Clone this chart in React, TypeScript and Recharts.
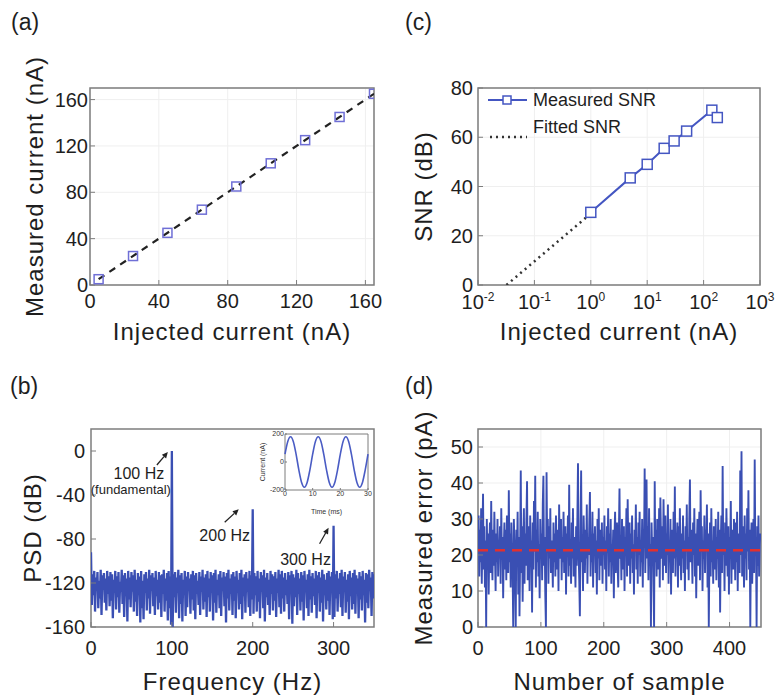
import React from "react";
import {
  ComposedChart,
  LineChart,
  Line,
  XAxis,
  YAxis,
  CartesianGrid,
  ReferenceArea,
  ReferenceLine,
  ReferenceDot,
  Legend,
  Label,
} from "recharts";

const FONT = '"Liberation Sans", Arial, Helvetica, sans-serif';
const BLUE = "#3a4fb3";
const BLUE_C = "#4456c2";
const FRAME = "#7d7d7d";
const INK = "#1e1e1e";

// (a) measured vs injected current
const injectedA = [5, 25, 45, 65, 85, 105, 125, 145, 165];
const measuredA = [5, 25, 45, 65, 85, 105, 125, 145, 165];
const fitInjectedA = [5, 165];
const fitMeasuredA = [5, 165];
const ticksA = [0, 40, 80, 120, 160];

// (c) SNR vs injected current (log x)
const snrCurrent = [1, 5, 10, 20, 30, 50, 140, 175];
const snrDb = [29.5, 43.5, 49, 55.5, 58.5, 62.5, 71, 68];
const fitSnrCurrent = [0.032, 1];
const fitSnrDb = [0, 29];
const logTicks = [0.01, 0.1, 1, 10, 100, 1000];
const snrTicks = [0, 20, 40, 60, 80];

// (b) PSD, one value per Hz (0..350)
const psdDb = [
  -92, -140, -112, -131, -109, -146, -115, -127, -110, -143, -118, -134, -108, -149, -113, -126, -111, -138, -116, -145, -109, -130, -114, -141, -110,
  -136, -112, -152, -117, -129, -109, -144, -114, -133, -110, -147, -119, -128, -108, -139, -113, -151, -111, -132, -116, -155, -109, -135, -115, -142,
  -110, -128, -113, -146, -108, -137, -117, -150, -111, -131, -114, -156, -109, -143, -118, -153, -112, -129, -110, -145, -116, -134, -108, -148, -113,
  -127, -111, -141, -115, -149, -109, -132, -117, -144, -110, -138, -113, -151, -112, -130, -108, -146, -116, -136, -111, -154, -109, -143, -114, -158,
  0, -160, -112, -133, -110, -147, -115, -129, -108, -152, -113, -139, -111, -155, -117, -131, -109, -150, -114, -142, -110, -127, -116, -148, -112,
  -135, -109, -145, -113, -153, -111, -130, -118, -140, -110, -149, -114, -128, -108, -144, -115, -137, -112, -151, -109, -133, -116, -146, -110, -129,
  -113, -154, -111, -138, -108, -147, -117, -131, -112, -143, -109, -150, -115, -127, -110, -141, -114, -156, -111, -134, -108, -145, -116, -130, -112,
  -149, -110, -136, -114, -152, -109, -129, -117, -144, -111, -139, -108, -153, -115, -132, -112, -147, -110, -128, -116, -142, -109, -150, -113, -135,
  -53, -148, -111, -131, -114, -146, -109, -137, -116, -152, -110, -128, -113, -143, -108, -155, -115, -133, -111, -140, -117, -149, -109, -130, -112,
  -145, -114, -136, -110, -151, -116, -129, -108, -142, -112, -148, -109, -134, -115, -146, -111, -131, -117, -139, -110, -153, -113, -127, -109, -157,
  -112, -141, -115, -133, -108, -149, -111, -130, -116, -145, -110, -137, -113, -154, -109, -128, -117, -143, -112, -150, -108, -135, -114, -147, -111,
  -132, -116, -140, -109, -152, -113, -129, -110, -146, -115, -138, -108, -155, -112, -131, -117, -144, -111, -136, -109, -149, -114, -127, -110, -153,
  -68, -151, -112, -134, -109, -146, -116, -130, -111, -142, -108, -150, -114, -128, -110, -147, -117, -137, -112, -153, -109, -132, -115, -144, -111,
  -139, -108, -148, -113, -129, -116, -152, -110, -135, -114, -145, -109, -131, -117, -156, -111, -138, -112, -143, -108, -127, -115, -150, -110, -134,
  -112,
];
const psdTicksX = [0, 100, 200, 300];
const psdTicksY = [-160, -120, -80, -40, 0];
const peakNotes = [
  { f: 100, db: 0, text: "100 Hz", sub: "(fundamental)" },
  { f: 200, db: -53, text: "200 Hz", sub: "" },
  { f: 300, db: -68, text: "300 Hz", sub: "" },
];

// (b) inset: time signal
const insetTimeMs = [0, 1, 2, 3, 4, 5, 6, 7, 8, 9, 10, 11, 12, 13, 14, 15, 16, 17, 18, 19, 20, 21, 22, 23, 24, 25, 26, 27, 28, 29, 30];
const insetCurrent = [56, 146, 180, 146, 56, -56, -146, -180, -146, -56, 56, 146, 180, 146, 56, -56, -146, -180, -146, -56, 56, 146, 180, 146, 56, -56, -146, -180, -146, -56, 56];

// (d) measured error per sample
const errorPa = [
  22, 31, 14, 27, 18, 33, 12, 25, 37, 16, 28, 11, 24, 0, 30, 19, 26, 9, 23, 29, 15, 35, 20, 13, 27,
  17, 32, 21, 10, 26, 18, 30, 14, 24, 21, 28, 12, 33, 19, 25, 8, 22, 29, 16, 27, 13, 31, 20, 15, 38,
  18, 26, 11, 29, 21, 16, 0, 30, 23, 14, 0, 27, 19, 32, 9, 25, 3, 20, 43.5, 15, 28, 7, 24, 33, 12,
  26, 17, 30, 40.5, 13, 22, 28, 10, 31, 19, 24, 4, 29, 16, 35, 21, 42, 11, 27, 18, 32, 14, 23, 8, 30,
  20, 26, 13, 34, 42, 17, 25, 9, 0, 43, 22, 30, 12, 28, 19, 33, 15, 24, 20, 11, 29, 18, 26, 14, 31,
  21, 16, 27, 10, 34, 23, 19, 30, 13, 25, 18, 32, 15, 22, 28, 9, 26, 20, 31, 14, 39.5, 17, 24, 12, 29,
  19, 33, 14, 25, 21, 11, 28, 17, 30, 45.5, 20, 13, 3, 26, 43.5, 18, 24, 10, 31, 22, 15, 27, 19, 34, 12,
  25, 20, 29, 37.5, 14, 23, 18, 32, 11, 26, 21, 28, 15, 24, 9, 30, 19, 33, 13, 27, 22, 17, 29, 12, 25,
  20, 31, 16, 24, 10, 28, 21, 33, 14, 26, 18, 30, 12, 23, 19, 27, 8, 25, 32, 15, 22, 29, 17, 11, 26,
  38.5, 19, 24, 13, 30, 21, 16, 28, 10, 25, 20, 33, 14, 35.5, 22, 17, 29, 12, 26, 19, 31, 15, 23, 9, 27,
  21, 34, 16, 25, 12, 29, 20, 32, 14, 24, 18, 30, 11, 27, 22, 44, 15, 26, 41, 19, 28, 13, 33, 17, 23,
  0, 29, 20, 25, 12, 0, 40.5, 18, 27, 14, 30, 21, 16, 33, 11, 36, 24, 19, 28, 13, 35.5, 22, 17, 31, 15,
  26, 20, 34, 12, 24, 18, 30, 9, 27, 21, 15, 32, 19, 39, 14, 25, 22, 29, 11, 28, 17, 33, 20, 13, 26,
  19, 31, 15, 24, 10, 28, 21, 34, 16, 25, 13, 30, 41, 18, 27, 22, 12, 29, 20, 33, 14, 26, 8, 23, 30,
  17, 25, 32, 13, 38, 21, 28, 10, 24, 19, 31, 15, 27, 22, 34, 11, 26, 0, 20, 29, 14, 33, 18, 24, 12,
  28, 21, 16, 30, 13, 25, 19, 32, 11, 27, 4, 23, 31, 15, 44.7, 20, 26, 10, 29, 17, 33, 22, 14, 28, 9,
  25, 19, 35, 12, 27, 21, 16, 30, 24, 13, 29, 18, 32, 10, 26, 22, 15, 43.5, 20, 48.8, 14, 28, 23, 11, 31,
  19, 26, 13, 33, 21, 38, 16, 27, 0, 24, 29, 12, 22, 30, 15, 46.5, 20, 25, 0, 28, 17, 31, 14, 23, 26,
];
const meanErrorPa = 21.3;
const errTicksX = [0, 100, 200, 300, 400];
const errTicksY = [0, 10, 20, 30, 40, 50];

const pointsA = injectedA.map((x, i) => ({ x, y: measuredA[i] }));
const fitA = fitInjectedA.map((x, i) => ({ x, y: fitMeasuredA[i] }));
const snrData = snrCurrent.map((x, i) => ({ x, y: snrDb[i] }));
const snrFit = fitSnrCurrent.map((x, i) => ({ x, y: fitSnrDb[i] }));
const psdData = psdDb.map((v, i) => ({ f: i, v }));
const insetData = insetTimeMs.map((t, i) => ({ t, c: insetCurrent[i] }));
const errData = errorPa.map((e, i) => ({ n: i, e }));

const tickStyle = { fontSize: 20, fill: INK };
const titleStyle = { fontSize: 24, fill: INK, letterSpacing: 1, textAnchor: "middle" as const };

const squareDot = (size: number, stroke: string, fill: string) => (p: any) => {
  if (p.cx == null || p.cy == null) return <g key={`e-${p.index}`} />;
  return (
    <rect
      key={`sq-${p.index}`}
      x={p.cx - size / 2}
      y={p.cy - size / 2}
      width={size}
      height={size}
      fill={fill}
      stroke={stroke}
      strokeWidth={1.5}
    />
  );
};

const LogTick = (props: any) => {
  const { x, y, payload } = props;
  const exp = Math.round(Math.log10(payload.value));
  return (
    <text x={x} y={y + 29} textAnchor="middle" fontSize={20} fill={INK}>
      10
      <tspan dy={-8} fontSize={12}>
        {exp}
      </tspan>
    </text>
  );
};

const Arrow = ({ x1, y1, x2, y2 }: { x1: number; y1: number; x2: number; y2: number }) => {
  const a = Math.atan2(y2 - y1, x2 - x1);
  const L = 6;
  const W = 2.8;
  const bx = x2 - L * Math.cos(a);
  const by = y2 - L * Math.sin(a);
  const pts = `${x2},${y2} ${bx + W * Math.sin(a)},${by - W * Math.cos(a)} ${bx - W * Math.sin(a)},${by + W * Math.cos(a)}`;
  return (
    <g>
      <line x1={x1} y1={y1} x2={bx} y2={by} stroke="#222" strokeWidth={1.3} />
      <polygon points={pts} fill="#222" />
    </g>
  );
};

// offsets of arrow + text, relative to each peak top
const noteOffsets = [
  { ax: -15, ay: 14, bx: -4, by: 1, tx: -33, ty: 28, sx: -41, sy: 43 },
  { ax: -28, ay: 13, bx: -14, by: 0, tx: -28, ty: 32, sx: 0, sy: 0 },
  { ax: -14, ay: 18, bx: -5, by: 2, tx: -28, ty: 39, sx: 0, sy: 0 },
];

const peakShape = (i: number) => (p: any) => {
  const o = noteOffsets[i];
  const n = peakNotes[i];
  const { cx, cy } = p;
  return (
    <g>
      <Arrow x1={cx + o.ax} y1={cy + o.ay} x2={cx + o.bx} y2={cy + o.by} />
      <text x={cx + o.tx} y={cy + o.ty} textAnchor="middle" fontSize={16} fill={INK}>
        {n.text}
      </text>
      {n.sub ? (
        <text x={cx + o.sx} y={cy + o.sy} textAnchor="middle" fontSize={13} fill={INK}>
          {n.sub}
        </text>
      ) : null}
    </g>
  );
};

const SnrLegend = () => (
  <svg width={200} height={60}>
    <line x1={1} y1={12} x2={40} y2={12} stroke={BLUE_C} strokeWidth={2} />
    <rect x={16} y={8} width={8} height={8} fill="#fff" stroke={BLUE_C} strokeWidth={1.5} />
    <text x={46} y={18} fontSize={18} fill={INK}>
      Measured SNR
    </text>
    <line x1={3} y1={49} x2={40} y2={49} stroke="#333" strokeWidth={2.5} strokeDasharray="2 4" />
    <text x={46} y={45} fontSize={18} fill={INK}>
      Fitted SNR
    </text>
  </svg>
);

const panelLabel = (txt: string, left: number, top: number) => (
  <div style={{ position: "absolute", left, top, fontSize: 23, color: INK, lineHeight: 1 }}>{txt}</div>
);

export default function App() {
  return (
    <div
      style={{
        position: "absolute",
        left: 0,
        top: 0,
        width: 783,
        height: 698,
        background: "#fff",
        fontFamily: FONT,
        overflow: "hidden",
      }}
    >
      {panelLabel("(a)", 11, 11)}
      {panelLabel("(c)", 405, 11)}
      {panelLabel("(b)", 10, 375)}
      {panelLabel("(d)", 405, 375)}

      {/* (a) */}
      <div style={{ position: "absolute", left: 0, top: 0 }}>
        <ComposedChart width={390} height={345} margin={{ top: 88, right: 16, bottom: 0, left: 0 }}>
          <CartesianGrid stroke="#efefef" />
          <XAxis
            dataKey="x"
            type="number"
            domain={[0, 165]}
            ticks={ticksA}
            allowDataOverflow
            axisLine={false}
            tickSize={-5}
            tickMargin={14}
            tickLine={{ stroke: FRAME }}
            tick={tickStyle}
            height={60}
          >
            <Label value="Injected current (nA)" position="insideBottom" offset={5} style={titleStyle} />
          </XAxis>
          <YAxis
            type="number"
            domain={[0, 170]}
            ticks={ticksA}
            allowDataOverflow
            axisLine={false}
            tickSize={-5}
            tickMargin={7}
            tickLine={{ stroke: FRAME }}
            tick={tickStyle}
            width={90}
          >
            <Label value="Measured current (nA)" angle={-90} position="insideLeft" offset={34} style={titleStyle} />
          </YAxis>
          <ReferenceArea x1={0} x2={165} y1={0} y2={170} fill="none" stroke={FRAME} strokeWidth={1.5} />
          <Line data={fitA} dataKey="y" stroke="#222" strokeWidth={2.2} strokeDasharray="7 6" dot={false} isAnimationActive={false} />
          <Line data={pointsA} dataKey="y" stroke="none" dot={squareDot(9, "#6f6fd6", "none")} isAnimationActive={false} />
        </ComposedChart>
      </div>

      {/* (c) */}
      <div style={{ position: "absolute", left: 390, top: 0 }}>
        <ComposedChart width={393} height={345} margin={{ top: 88, right: 23, bottom: 0, left: 0 }}>
          <CartesianGrid stroke="#efefef" />
          <XAxis
            dataKey="x"
            type="number"
            scale="log"
            domain={[0.01, 1000]}
            ticks={logTicks}
            allowDataOverflow
            axisLine={false}
            tickSize={-5}
            tickMargin={0}
            tickLine={{ stroke: FRAME }}
            tick={<LogTick />}
            height={60}
          >
            <Label value="Injected current (nA)" position="insideBottom" offset={5} style={titleStyle} />
          </XAxis>
          <YAxis
            type="number"
            domain={[0, 80]}
            ticks={snrTicks}
            allowDataOverflow
            axisLine={false}
            tickSize={-5}
            tickMargin={10}
            tickLine={{ stroke: FRAME }}
            tick={tickStyle}
            width={88}
          >
            <Label value="SNR (dB)" angle={-90} position="insideLeft" offset={33} style={titleStyle} />
          </YAxis>
          <ReferenceArea x1={0.01} x2={1000} y1={0} y2={80} fill="none" stroke={FRAME} strokeWidth={1.5} />
          <Line
            data={snrFit}
            dataKey="y"
            name="Fitted SNR"
            stroke="#333"
            strokeWidth={2.5}
            strokeDasharray="2 4"
            dot={false}
            isAnimationActive={false}
          />
          <Line
            data={snrData}
            dataKey="y"
            name="Measured SNR"
            stroke={BLUE_C}
            strokeWidth={2}
            dot={squareDot(10, BLUE_C, "#fff")}
            isAnimationActive={false}
          />
          <Legend
            layout="vertical"
            align="center"
            verticalAlign="middle"
            content={<SnrLegend />}
            wrapperStyle={{ left: 97, top: 88, width: 200, height: 60 }}
          />
        </ComposedChart>
      </div>

      {/* (b) */}
      <div style={{ position: "absolute", left: 0, top: 345 }}>
        <ComposedChart width={390} height={353} margin={{ top: 84, right: 16, bottom: 0, left: 0 }}>
          <XAxis
            dataKey="f"
            type="number"
            domain={[0, 350]}
            ticks={psdTicksX}
            allowDataOverflow
            axisLine={false}
            tickSize={-5}
            tickMargin={19}
            tickLine={{ stroke: FRAME }}
            tick={tickStyle}
            height={71}
          >
            <Label value="Frequency (Hz)" position="insideBottom" offset={8} style={titleStyle} />
          </XAxis>
          <YAxis
            type="number"
            domain={[-160, 20]}
            ticks={psdTicksY}
            allowDataOverflow
            axisLine={false}
            tickSize={-5}
            tickMargin={11}
            tickLine={{ stroke: FRAME }}
            tick={tickStyle}
            width={91}
          >
            <Label value="PSD (dB)" angle={-90} position="insideLeft" offset={32} style={titleStyle} />
          </YAxis>
          <ReferenceArea x1={0} x2={350} y1={-160} y2={20} fill="none" stroke={FRAME} strokeWidth={1.5} />
          <Line data={psdData} dataKey="v" stroke={BLUE} strokeWidth={2.3} dot={false} isAnimationActive={false} />
          {peakNotes.map((n, i) => (
            <ReferenceDot key={n.text} x={n.f} y={n.db} r={0} shape={peakShape(i)} />
          ))}
        </ComposedChart>
      </div>

      {/* (b) inset */}
      <div style={{ position: "absolute", left: 255, top: 428 }}>
        <LineChart width={120} height={96} data={insetData} margin={{ top: 6, right: 7, bottom: 0, left: 0 }}>
          <XAxis
            dataKey="t"
            type="number"
            domain={[0, 30]}
            ticks={[0, 10, 20, 30]}
            axisLine={false}
            tickSize={-2}
            tickMargin={3}
            tickLine={{ stroke: FRAME }}
            tick={{ fontSize: 7, fill: "#333" }}
            height={34}
          >
            <Label value="Time (ms)" position="insideBottom" offset={10} style={{ fontSize: 7, fill: "#333" }} />
          </XAxis>
          <YAxis
            type="number"
            domain={[-200, 200]}
            ticks={[-200, 0, 200]}
            axisLine={false}
            tickSize={-2}
            tickMargin={3}
            tickLine={{ stroke: FRAME }}
            tick={{ fontSize: 7, fill: "#333" }}
            width={30}
          >
            <Label
              value="Current (nA)"
              angle={-90}
              position="insideLeft"
              offset={8}
              style={{ fontSize: 7, fill: "#333", textAnchor: "middle" }}
            />
          </YAxis>
          <ReferenceArea x1={0} x2={30} y1={-200} y2={200} fill="none" stroke={FRAME} strokeWidth={1} />
          <Line dataKey="c" type="monotone" stroke="#4a5cc4" strokeWidth={1.6} dot={false} isAnimationActive={false} />
        </LineChart>
      </div>

      {/* (d) */}
      <div style={{ position: "absolute", left: 390, top: 345 }}>
        <ComposedChart width={393} height={353} margin={{ top: 84, right: 22, bottom: 0, left: 0 }}>
          <CartesianGrid stroke="#efefef" />
          <XAxis
            dataKey="n"
            type="number"
            domain={[0, 450]}
            ticks={errTicksX}
            allowDataOverflow
            axisLine={false}
            tickSize={-5}
            tickMargin={19}
            tickLine={{ stroke: FRAME }}
            tick={tickStyle}
            height={71}
          >
            <Label value="Number of sample" position="insideBottom" offset={8} style={titleStyle} />
          </XAxis>
          <YAxis
            type="number"
            domain={[0, 55]}
            ticks={errTicksY}
            allowDataOverflow
            axisLine={false}
            tickSize={-5}
            tickMargin={10}
            tickLine={{ stroke: FRAME }}
            tick={tickStyle}
            width={88}
          >
            <Label value="Measured error (pA)" angle={-90} position="insideLeft" offset={33} style={titleStyle} />
          </YAxis>
          <ReferenceArea x1={0} x2={450} y1={0} y2={55} fill="none" stroke={FRAME} strokeWidth={1.5} />
          <Line data={errData} dataKey="e" stroke={BLUE} strokeWidth={1.9} dot={false} isAnimationActive={false} />
          <ReferenceLine y={meanErrorPa} stroke="#e2302e" strokeWidth={2.5} strokeDasharray="10 7" />
        </ComposedChart>
      </div>
    </div>
  );
}
